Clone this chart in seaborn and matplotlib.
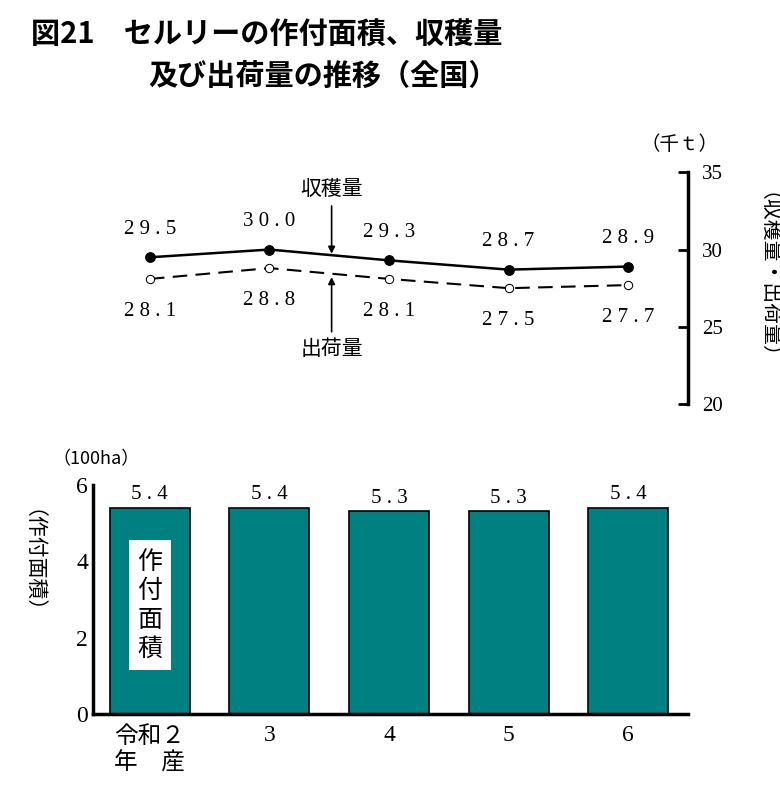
import matplotlib
matplotlib.use('Agg')
import matplotlib.pyplot as plt
import seaborn as sns
import pandas as pd

sns.set_style('white')
plt.rcParams['font.family'] = ['Noto Sans CJK JP']
plt.rcParams['text.color'] = 'black'
plt.rcParams['xtick.color'] = 'black'
plt.rcParams['ytick.color'] = 'black'

years = ['令和２\n年　産', '3', '4', '5', '6']
area = [5.4, 5.4, 5.3, 5.3, 5.4]
harvest = [29.5, 30.0, 29.3, 28.7, 28.9]
shipment = [28.1, 28.8, 28.1, 27.5, 27.7]

df = pd.DataFrame({'x': range(5), 'area': area, 'harvest': harvest, 'shipment': shipment})

fig = plt.figure(figsize=(7.8, 8.05), dpi=100)

fig.text(0.04, 0.975, '図21　セルリーの作付面積、収穫量', fontsize=21, fontweight='bold', va='top')
fig.text(0.19, 0.925, '及び出荷量の推移（全国）', fontsize=21, fontweight='bold', va='top')


def spaced(v):
    return ' '.join(f'{v:.1f}')


# top line chart
ax1 = fig.add_axes([0.119, 0.498, 0.763, 0.288])
sns.lineplot(data=df, x='x', y='harvest', ax=ax1, color='black', lw=1.8,
             marker='o', markersize=7, markerfacecolor='black', markeredgecolor='black')
sns.lineplot(data=df, x='x', y='shipment', ax=ax1, color='black', lw=1.5, ls=(0, (7, 4)),
             marker='o', markersize=6, markerfacecolor='white', markeredgecolor='black')
ax1.set_xlim(-0.477, 4.5)
ax1.set_ylim(20, 35)
for s in ['left', 'top', 'bottom']:
    ax1.spines[s].set_visible(False)
ax1.spines['right'].set_linewidth(2.5)
ax1.spines['right'].set_color('black')
ax1.yaxis.tick_right()
ax1.set_yticks([20, 25, 30, 35])
ax1.tick_params(axis='y', direction='in', length=7, width=2, labelsize=15, pad=10)
for t in ax1.get_yticklabels():
    t.set_family('Liberation Serif')
ax1.set_xticks([])
ax1.set_xlabel('')
ax1.set_ylabel('')
for i in range(5):
    ax1.text(i, harvest[i] + 1.2, spaced(harvest[i]), ha='center', va='bottom',
             fontsize=15, family='Liberation Serif')
    ax1.text(i, shipment[i] - 1.5, spaced(shipment[i]), ha='center', va='top',
             fontsize=15, family='Liberation Serif')
ax1.annotate('', xy=(1.52, 29.55), xytext=(1.52, 33.0),
             arrowprops=dict(arrowstyle='-|>', color='black', lw=1.2))
ax1.text(1.52, 33.2, '収穫量', ha='center', va='bottom', fontsize=15)
ax1.annotate('', xy=(1.52, 28.4), xytext=(1.52, 24.5),
             arrowprops=dict(arrowstyle='-|>', color='black', lw=1.2))
ax1.text(1.52, 24.3, '出荷量', ha='center', va='top', fontsize=15)
ax1.text(4.1, 36.8, '（千ｔ）', ha='left', va='center', fontsize=14)
fig.text(0.97, 0.645, '（収穫量・出荷量）', rotation=270, ha='center', va='center', fontsize=15)

# bottom bar chart
ax2 = fig.add_axes([0.119, 0.113, 0.763, 0.285])
sns.barplot(data=df, x='x', y='area', ax=ax2, color='#008080', width=0.67,
            edgecolor='black', linewidth=1.2, saturation=1)
ax2.set_xlim(-0.477, 4.5)
ax2.set_ylim(0, 6)
ax2.set_yticks([0, 2, 4, 6])
ax2.set_xticks(range(5))
ax2.set_xticklabels(years, fontsize=17)
ax2.tick_params(axis='both', direction='in', length=5, width=1.5, labelsize=17)
ax2.tick_params(axis='x', length=0, pad=8)
for t in ax2.get_yticklabels():
    t.set_family('Liberation Serif')
for t in ax2.get_xticklabels()[1:]:
    t.set_family('Liberation Serif')
for s in ['top', 'right']:
    ax2.spines[s].set_visible(False)
for s in ['left', 'bottom']:
    ax2.spines[s].set_linewidth(2.5)
    ax2.spines[s].set_color('black')
ax2.set_xlabel('')
ax2.set_ylabel('')
for i in range(5):
    ax2.text(i, area[i] + 0.08, spaced(area[i]), ha='center', va='bottom',
             fontsize=15, family='Liberation Serif')
ax2.text(0, 2.85, '作\n付\n面\n積', ha='center', va='center', fontsize=18, linespacing=1.15,
         bbox=dict(facecolor='white', edgecolor='none', pad=6))
ax2.text(-0.45, 6.65, '（100ha）', ha='center', va='center', fontsize=13)
fig.text(0.028, 0.29, '（作付面積）', rotation=270, ha='center', va='center', fontsize=15)

fig.savefig('out.png', dpi=100)
